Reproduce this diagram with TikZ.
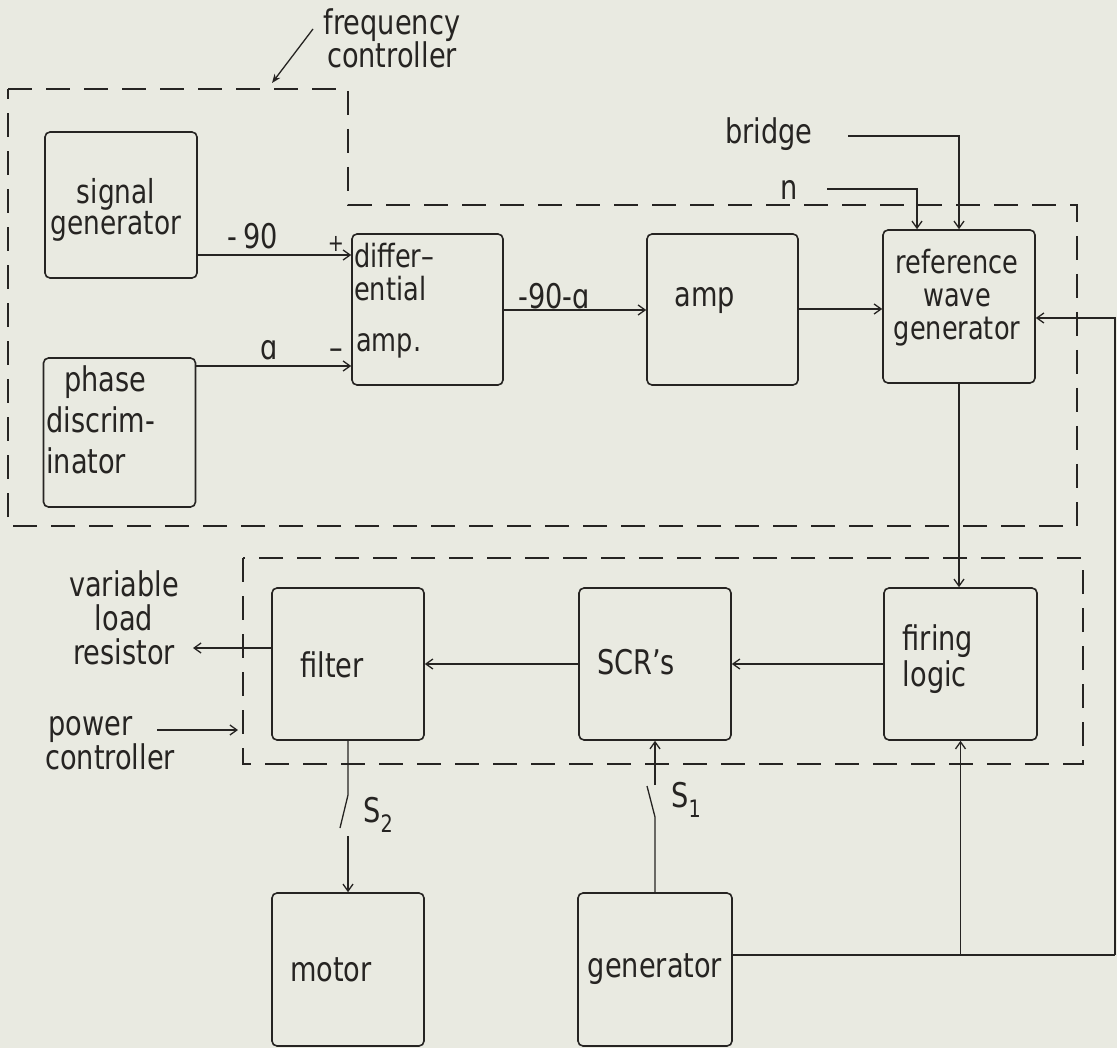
\documentclass[tikz,border=0pt]{standalone}
\usepackage{fontspec}
\setmainfont[FakeStretch=0.8]{DejaVu Sans}
\usetikzlibrary{arrows.meta}
\definecolor{paper}{RGB}{233,234,225}
\definecolor{ink}{RGB}{38,36,34}
\newcommand{\swsub}[1]{\raisebox{-10pt}{\fontsize{24}{24}\selectfont #1}}

\begin{document}
\begin{tikzpicture}[x=1pt, y=-1pt, >={Straight Barb[length=7pt,width=10pt]},
  every node/.style={font=\fontsize{34}{28}\selectfont, text=ink, inner sep=0pt},
  blk/.style={draw=ink, line width=1.6pt, rounded corners=5pt, minimum width=152pt, minimum height=152pt},
  dbox/.style={draw=ink, line width=1.6pt, dash pattern=on 24pt off 14pt},
  sig/.style={draw=ink, line width=1.3pt}]
  \fill[paper] (0,0) rectangle (1117,1048);
  \useasboundingbox (0,0) rectangle (1117,1048);
  % Frequency controller
  \draw[dbox] (8,89) -- (348,89) -- (348,205) -- (1077,205) -- (1077,526) -- (8,526) -- cycle;
  \node[align=center, font=\fontsize{34}{33}\selectfont] (freqc) at (392,38) {frequency\\controller};
  \draw[sig, -{Stealth[length=9pt,width=7pt]}] (313,29) -- (272,83);
  \node[blk, minimum height=146pt] (siggen) at (121,205) {};
  \node[align=center, font=\fontsize{33}{28}\selectfont] (siggen-t) at (116,210) {signal\\generator};
  \node[blk, minimum height=149pt] (phase) at (119.5,432.5) {};
  \node[align=left, anchor=west, font=\fontsize{34}{41}\selectfont] (phase-t) at (46,420) {\hspace*{18pt}phase\\discrim-\\inator};
  \node[blk, minimum width=151pt, minimum height=151pt] (diffamp) at (427.5,309.5) {};
  \node[align=left, anchor=north west, font=\fontsize{32}{33}\selectfont] (diffamp-t) at (354,243) {differ–\\ential\\[18pt]\hspace*{2pt}amp.};
  \node[blk, minimum width=151pt, minimum height=151pt] (amp) at (722.5,309.5) {};
  \node (amp-t) at (705,301) {amp};
  \node[blk, minimum height=153pt] (refgen) at (959,306.5) {};
  \node[align=center, font=\fontsize{32}{33}\selectfont] (refgen-t) at (957,298) {reference\\wave\\generator};
  \draw[sig, ->] (siggen.east |- 0,255) -- (diffamp.west |- 0,255);
  \node (m90) at (253,236) {-\,90};
  \node (plus) at (336,244) {\fontsize{24}{24}\selectfont +};
  \draw[sig, ->] (phase.east |- 0,366) -- (diffamp.west |- 0,366);
  \node (alpha) at (269,350) {ɑ};
  \node (minus) at (336,354) {–};
  \draw[sig, ->] (diffamp.east |- 0,310) -- (amp.west |- 0,310);
  \node (m90a) at (554,296) {-90-ɑ};
  \draw[sig, ->] (amp.east |- 0,309) -- (refgen.west |- 0,309);
  % Inputs to reference wave generator
  \node (bridge) at (769,134) {bridge};
  \node (nin) at (789,190) {n};
  \coordinate (bstart) at (848,136);
  \coordinate (nstart) at (827,189);
  \draw[sig, ->] (bstart) -| (refgen.north);
  \draw[sig, ->] (nstart) -| ([xshift=-42pt]refgen.north);
  % Power controller
  \draw[dbox] (243,558) rectangle (1083,764);
  \node[blk] (filter) at (348,664) {};
  \node (filter-t) at (332,665) {filter};
  \node[blk] (scr) at (655,664) {};
  \node (scr-t) at (636,662) {SCR’s};
  \node[blk, minimum width=153pt] (firing) at (960.5,664) {};
  \node[align=left, font=\fontsize{34}{36}\selectfont] (firing-t) at (938,659) {firing\\logic};
  \draw[sig, ->] (refgen.south) -- (refgen.south |- firing.north);
  \draw[sig, ->] (firing.west) -- (scr.east);
  \draw[sig, ->] (scr.west) -- (filter.east);
  \node[align=center, font=\fontsize{34}{34}\selectfont] (load) at (124,618) {variable\\load\\resistor};
  \coordinate (loadin) at (193,648);
  \draw[sig, ->] (filter.west |- loadin) -- (loadin);
  \node[align=left, anchor=west, font=\fontsize{34}{34}\selectfont] (pwr) at (45,743) {\hspace*{3pt}power\\controller};
  \coordinate (pwrstart) at (157,730);
  \coordinate (pwrend) at (238,730);
  \draw[sig, ->] (pwrstart) -- (pwrend);
  % Machines
  \node[blk, minimum height=153pt] (motor) at (348,969.5) {};
  \node (motor-t) at (331,970) {motor};
  \node[blk, minimum width=154pt, minimum height=153pt] (generator) at (655,969.5) {generator};
  % S2
  \coordinate (s2a) at (348,795);
  \coordinate (s2b) at (340,828);
  \coordinate (s2c) at (348,836);
  \draw[sig] (filter.south) -- (s2a) -- (s2b);
  \draw[sig, ->] (s2c) -- (motor.north);
  \node (s2) at (378,815) {S\swsub{2}};
  % S1
  \coordinate (s1a) at (655,817);
  \coordinate (s1b) at (647,786);
  \coordinate (s1c) at (655,785);
  \draw[sig] (generator.north) -- (s1a) -- (s1b);
  \draw[sig, ->] (s1c) -- (scr.south);
  \node (s1) at (686,800) {S\swsub{1}};
  % Feedback from generator
  \coordinate (fbk) at (1115,955);
  \draw[sig] (generator.east |- fbk) -- (fbk);
  \draw[sig, ->] (fbk) |- (refgen.east |- 0,318);
  \draw[sig, ->] (firing.south |- fbk) -- (firing.south);
\end{tikzpicture}
\end{document}
